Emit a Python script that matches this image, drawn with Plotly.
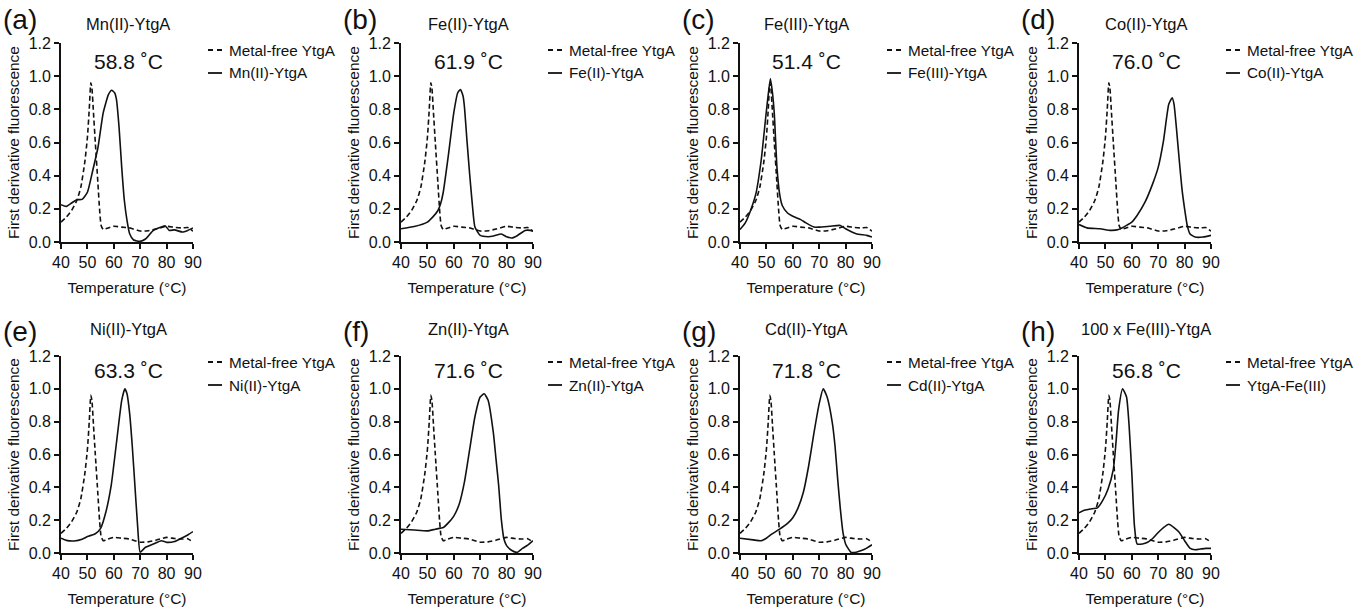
import plotly.graph_objects as go

# ---------------- data ----------------
panel_letters = ["(a)", "(b)", "(c)", "(d)", "(e)", "(f)", "(g)", "(h)"]
panel_titles = ["Mn(II)-YtgA", "Fe(II)-YtgA", "Fe(III)-YtgA", "Co(II)-YtgA",
                "Ni(II)-YtgA", "Zn(II)-YtgA", "Cd(II)-YtgA", "100 x Fe(III)-YtgA"]
melt_labels = ["58.8 ˚C", "61.9 ˚C", "51.4 ˚C", "76.0 ˚C",
               "63.3 ˚C", "71.6 ˚C", "71.8 ˚C", "56.8 ˚C"]
free_name = "Metal-free YtgA"
metal_names = ["Mn(II)-YtgA", "Fe(II)-YtgA", "Fe(III)-YtgA", "Co(II)-YtgA",
               "Ni(II)-YtgA", "Zn(II)-YtgA", "Cd(II)-YtgA", "YtgA-Fe(III)"]
x_ticks = [40, 50, 60, 70, 80, 90]
y_ticks = [0.0, 0.2, 0.4, 0.6, 0.8, 1.0, 1.2]

# metal-free reference curve (same in every panel)
free_temp = [40, 42, 44, 46, 47.5, 49, 50, 50.7, 51.3, 51.7, 52.3, 53, 54, 54.6, 55.2, 56,
             57, 60, 63, 66, 70, 73, 76, 80, 83, 86, 88, 90]
free_val = [0.12, 0.15, 0.19, 0.25, 0.33, 0.48, 0.63, 0.80, 0.96, 0.93, 0.78, 0.60, 0.35, 0.20,
            0.10, 0.075, 0.08, 0.095, 0.09, 0.085, 0.066, 0.068, 0.078, 0.095, 0.088, 0.085,
            0.087, 0.065]

mn_temp = [40, 42, 44, 46, 48, 50, 52, 54, 56, 58, 59.2, 60.3, 61, 62, 63, 64, 65, 66, 67.5,
           70, 72, 75, 78, 79.5, 81, 83, 86, 88, 90]
mn_val = [0.225, 0.215, 0.235, 0.255, 0.257, 0.30, 0.43, 0.57, 0.78, 0.89, 0.915, 0.90, 0.86,
          0.69, 0.45, 0.25, 0.13, 0.05, 0.012, 0.004, 0.018, 0.07, 0.09, 0.097, 0.07, 0.073,
          0.06, 0.07, 0.085]

fe2_temp = [40, 45, 50, 52, 54, 55, 56, 58, 60, 61.5, 62.5, 63.5, 64, 65, 66, 67, 68, 70, 73,
            75, 78, 80, 82, 84, 87, 89, 90]
fe2_val = [0.08, 0.093, 0.12, 0.15, 0.19, 0.23, 0.30, 0.53, 0.78, 0.90, 0.92, 0.88, 0.82, 0.61,
           0.41, 0.23, 0.09, 0.04, 0.032, 0.036, 0.048, 0.032, 0.024, 0.038, 0.07, 0.07, 0.065]

fe3_temp = [40, 42, 44, 46, 48, 50, 51.5, 52.3, 53, 54, 55, 56, 58, 60, 63, 65, 68, 70, 74,
            78, 80, 84, 88, 90]
fe3_val = [0.075, 0.115, 0.19, 0.29, 0.49, 0.79, 0.985, 0.90, 0.77, 0.45, 0.29, 0.22, 0.175,
           0.155, 0.135, 0.115, 0.09, 0.09, 0.095, 0.10, 0.08, 0.05, 0.04, 0.03]

co_temp = [40, 43, 48, 52, 55, 58, 60, 62, 65, 68, 70, 72, 74, 75.3, 76, 77, 78, 79, 80, 81,
           82, 84, 87, 90]
co_val = [0.105, 0.085, 0.08, 0.07, 0.075, 0.10, 0.12, 0.16, 0.24, 0.355, 0.45, 0.61, 0.83,
          0.87, 0.83, 0.67, 0.49, 0.32, 0.20, 0.10, 0.05, 0.03, 0.03, 0.04]

ni_temp = [40, 42, 45, 48, 50, 53, 55, 57, 59, 61, 63, 64.2, 65, 66, 67, 68, 69, 70, 72, 75,
           78, 80, 83, 85, 88, 90]
ni_val = [0.09, 0.077, 0.073, 0.083, 0.10, 0.117, 0.15, 0.25, 0.41, 0.67, 0.93, 1.0, 0.97,
          0.85, 0.65, 0.41, 0.17, 0.005, 0.035, 0.055, 0.075, 0.065, 0.07, 0.085, 0.11, 0.13]

zn_temp = [40, 45, 50, 53, 56, 58, 60, 62, 64, 66, 68, 70, 71.5, 73, 75, 76, 77, 78, 79, 80,
           82, 84, 86, 88, 90]
zn_val = [0.145, 0.14, 0.135, 0.145, 0.155, 0.185, 0.225, 0.295, 0.43, 0.63, 0.83, 0.95, 0.97,
          0.93, 0.73, 0.57, 0.41, 0.205, 0.085, 0.045, 0.015, 0.004, 0.028, 0.048, 0.075]

cd_temp = [40, 45, 48, 50, 52, 55, 58, 60, 62, 64, 66, 68, 70, 71.5, 73, 75, 76, 77, 78, 79,
           80, 82, 84, 86, 88, 90]
cd_val = [0.09, 0.08, 0.075, 0.09, 0.115, 0.145, 0.18, 0.215, 0.275, 0.37, 0.53, 0.73, 0.91,
          1.0, 0.95, 0.79, 0.65, 0.45, 0.27, 0.125, 0.055, 0.005, 0.005, 0.015, 0.03, 0.05]

fe3x_temp = [40, 42, 45, 47, 49, 51, 53, 54, 55, 56.5, 58, 59, 60, 61, 62, 64, 66, 68, 70, 72,
             74, 76, 78, 80, 82, 84, 86, 88, 90]
fe3x_val = [0.245, 0.26, 0.27, 0.275, 0.32, 0.39, 0.51, 0.67, 0.87, 1.0, 0.95, 0.77, 0.49,
            0.165, 0.055, 0.055, 0.065, 0.09, 0.125, 0.155, 0.175, 0.155, 0.125, 0.075, 0.03,
            0.02, 0.024, 0.028, 0.028]

metal_temps = [mn_temp, fe2_temp, fe3_temp, co_temp, ni_temp, zn_temp, cd_temp, fe3x_temp]
metal_vals = [mn_val, fe2_val, fe3_val, co_val, ni_val, zn_val, cd_val, fe3x_val]

# ---------------- layout geometry (pixels) ----------------
W, H = 1366, 607
col_x0 = [61, 401, 740, 1079]
plot_w = 132
row_top = [43, 356]
row_bottom = [242, 553]
letter_y = [20, 331]
title_y = [24, 329]
melt_y = [61, 370]
leg_y = [(50, 73), (362, 385)]

FONT = "Arial, 'Liberation Sans', sans-serif"
INK = "#111111"


def px(x):
    return x / W


def py(y):
    return 1 - y / H


fig = go.Figure()
layout = dict(
    width=W, height=H,
    margin=dict(l=0, r=0, t=0, b=0, pad=0),
    paper_bgcolor="white", plot_bgcolor="white",
    showlegend=False,
    font=dict(family=FONT, color=INK),
)
annotations = []
shapes = []

for i in range(8):
    r, c = divmod(i, 4)
    k = i + 1
    xa = "x" if k == 1 else f"x{k}"
    ya = "y" if k == 1 else f"y{k}"
    x0 = col_x0[c]

    fig.add_trace(go.Scatter(
        x=free_temp, y=free_val, mode="lines", name=free_name,
        line=dict(color=INK, width=1.6, dash="5px,3px", shape="spline", smoothing=0.5),
        xaxis=xa, yaxis=ya))
    fig.add_trace(go.Scatter(
        x=metal_temps[i], y=metal_vals[i], mode="lines", name=metal_names[i],
        line=dict(color=INK, width=1.6, shape="spline", smoothing=0.5),
        xaxis=xa, yaxis=ya))

    layout["xaxis" if k == 1 else f"xaxis{k}"] = dict(
        domain=[px(x0), px(x0 + plot_w)], anchor=ya,
        range=[40, 90], tickmode="array", tickvals=x_ticks,
        showline=True, linecolor=INK, linewidth=1.8,
        ticks="outside", ticklen=5, tickwidth=1.6, tickcolor=INK,
        showgrid=False, zeroline=False, automargin=False,
        tickfont=dict(size=16, family=FONT, color=INK),
        title=dict(text="Temperature (°C)", font=dict(size=15.5, family=FONT, color=INK),
                   standoff=12),
    )
    layout["yaxis" if k == 1 else f"yaxis{k}"] = dict(
        domain=[py(row_bottom[r]), py(row_top[r])], anchor=xa,
        range=[0, 1.2], tickmode="array", tickvals=y_ticks, tickformat=".1f",
        showline=True, linecolor=INK, linewidth=1.8,
        ticks="outside", ticklen=5, tickwidth=1.6, tickcolor=INK,
        showgrid=False, zeroline=False, automargin=False,
        tickfont=dict(size=16, family=FONT, color=INK),
        title=dict(text="First derivative fluorescence",
                   font=dict(size=15.5, family=FONT, color=INK), standoff=5),
    )

    # panel letter
    annotations.append(dict(text=panel_letters[i], xref="paper", yref="paper",
                            x=px(x0 - 60), y=py(letter_y[r]), xanchor="left", yanchor="middle",
                            showarrow=False, font=dict(size=28, family=FONT, color=INK)))
    # panel title
    annotations.append(dict(text=panel_titles[i], xref="paper", yref="paper",
                            x=px(x0 + 67), y=py(title_y[r]), xanchor="center", yanchor="middle",
                            showarrow=False, font=dict(size=16.5, family=FONT, color=INK)))
    # melting temperature
    annotations.append(dict(text=melt_labels[i], xref="paper", yref="paper",
                            x=px(x0 + 67), y=py(melt_y[r]), xanchor="center", yanchor="middle",
                            showarrow=False, font=dict(size=21, family=FONT, color=INK)))
    # legend (text + short line samples)
    for j, (name, dash) in enumerate([(free_name, "5px,4px"), (metal_names[i], "solid")]):
        yy = leg_y[r][j]
        annotations.append(dict(text=name, xref="paper", yref="paper",
                                x=px(x0 + 166), y=py(yy), xanchor="left", yanchor="middle",
                                showarrow=False, font=dict(size=15.3, family=FONT, color=INK)))
        shapes.append(dict(type="line", xref="paper", yref="paper",
                           x0=px(x0 + 147), x1=px(x0 + 161), y0=py(yy), y1=py(yy),
                           line=dict(color=INK, width=1.8, dash=dash)))

layout["annotations"] = annotations
layout["shapes"] = shapes
fig.update_layout(**layout)
fig.write_html(
    "out.html",
    config={"displayModeBar": False},
    post_script="document.body.style.margin='0';document.body.style.padding='0';"
                "document.body.style.overflow='hidden';",
)
